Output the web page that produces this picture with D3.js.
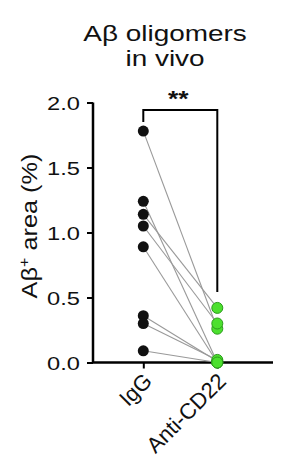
<!DOCTYPE html>
<html><head><meta charset="utf-8">
<script src="https://cdn.jsdelivr.net/npm/d3@7"></script>
<style>body{margin:0;background:#fff}svg{display:block;font-family:"Liberation Sans",Arial,sans-serif}</style>
</head><body><svg id="c" width="287" height="471"></svg>
<script>
const categories = ["IgG", "Anti-CD22"];
const igg = [1.78, 1.24, 1.14, 1.05, 0.89, 0.36, 0.30, 0.09];
const antiCD22 = [0.26, 0.0, 0.42, 0.30, 0.0, 0.01, 0.02, 0.0];
const yTicks = [0.0, 0.5, 1.0, 1.5, 2.0];
const titleLines = ["A\u03b2 oligomers", "in vivo"];
const sigLabel = "**";

const svg = d3.select("#c");
const y = d3.scaleLinear().domain([0, 2]).range([362.5, 102.5]);
const x = d3.scalePoint().domain(categories).range([143.3, 217.3]);
const xLeft = 93, xRight = 273;
const SX = 1.27; // horizontal stretch of reference glyphs

// title
svg.append("text").attr("transform", `translate(165,41) scale(${SX},1)`).attr("text-anchor", "middle")
  .attr("font-size", 22).attr("fill", "#111").text(titleLines[0]);
svg.append("text").attr("transform", `translate(165,66) scale(${SX},1)`).attr("text-anchor", "middle")
  .attr("font-size", 22).attr("fill", "#111").text(titleLines[1]);

// y axis
const yAxis = d3.axisLeft(y).tickValues(yTicks).tickFormat(d3.format(".1f")).tickSize(6).tickPadding(3);
const gy = svg.append("g").attr("transform", `translate(${xLeft},0)`).call(yAxis);
gy.select(".domain").attr("stroke", "#000").attr("stroke-width", 2.5).attr("d", `M0,${y(2)}V${y(0)}`);
gy.selectAll(".tick line").attr("stroke-width", 2);
gy.selectAll(".tick text").attr("font-size", 18.5).attr("fill", "#111")
  .attr("font-family", "Liberation Sans, Arial, sans-serif")
  .attr("x", null).attr("transform", `translate(-13,1) scale(1.28,1)`);

// x axis
const xAxis = d3.axisBottom(x).tickSize(6).tickFormat("");
const gx = svg.append("g").attr("transform", `translate(0,${y(0)})`).call(xAxis);
gx.select(".domain").attr("stroke-width", 2.5).attr("d", `M${xLeft},0H${xRight}`);
gx.selectAll(".tick line").attr("stroke-width", 2);
categories.forEach(c => {
  svg.append("text")
    .attr("transform", `translate(${x(c) + 10},${y(0) + 20}) rotate(-45)`)
    .attr("text-anchor", "end").attr("font-size", 22).attr("fill", "#111").text(c);
});

// y label
const yl = svg.append("text").attr("transform", `translate(37,226) rotate(-90) scale(1.15,1)`)
  .attr("text-anchor", "middle").attr("font-size", 22).attr("fill", "#111");
yl.append("tspan").text("A\u03b2");
yl.append("tspan").attr("dy", -8).attr("font-size", 14).text("+");
yl.append("tspan").attr("dy", 8).text(" area (%)");

// pair lines
const pairs = igg.map((v, i) => [v, antiCD22[i]]);
svg.append("g").selectAll("line").data(pairs).join("line")
  .attr("x1", x(categories[0])).attr("y1", d => y(d[0]))
  .attr("x2", x(categories[1])).attr("y2", d => y(d[1]))
  .attr("stroke", "#999").attr("stroke-width", 1.1);

// significance bracket
const bTop = 110;
svg.append("path")
  .attr("d", `M${x(categories[0])},${bTop + 12}V${bTop}H${x(categories[1])}V${y(Math.max(...antiCD22)) - 16}`)
  .attr("fill", "none").attr("stroke", "#000").attr("stroke-width", 2);
svg.append("text").attr("transform", `translate(${(x(categories[0]) + x(categories[1])) / 2 - 2},106) scale(1.2,1)`)
  .attr("text-anchor", "middle").attr("font-size", 22).attr("font-weight", "bold").attr("fill", "#111").text(sigLabel);

// points
svg.append("g").selectAll("circle").data(igg).join("circle")
  .attr("cx", x(categories[0])).attr("cy", d => y(d)).attr("r", 5.5).attr("fill", "#111");
svg.append("g").selectAll("circle").data(antiCD22).join("circle")
  .attr("cx", x(categories[1])).attr("cy", d => y(d)).attr("r", 5.5)
  .attr("fill", "#4ce02e").attr("stroke", "#2b9a1c").attr("stroke-width", 1);
</script></body></html>
